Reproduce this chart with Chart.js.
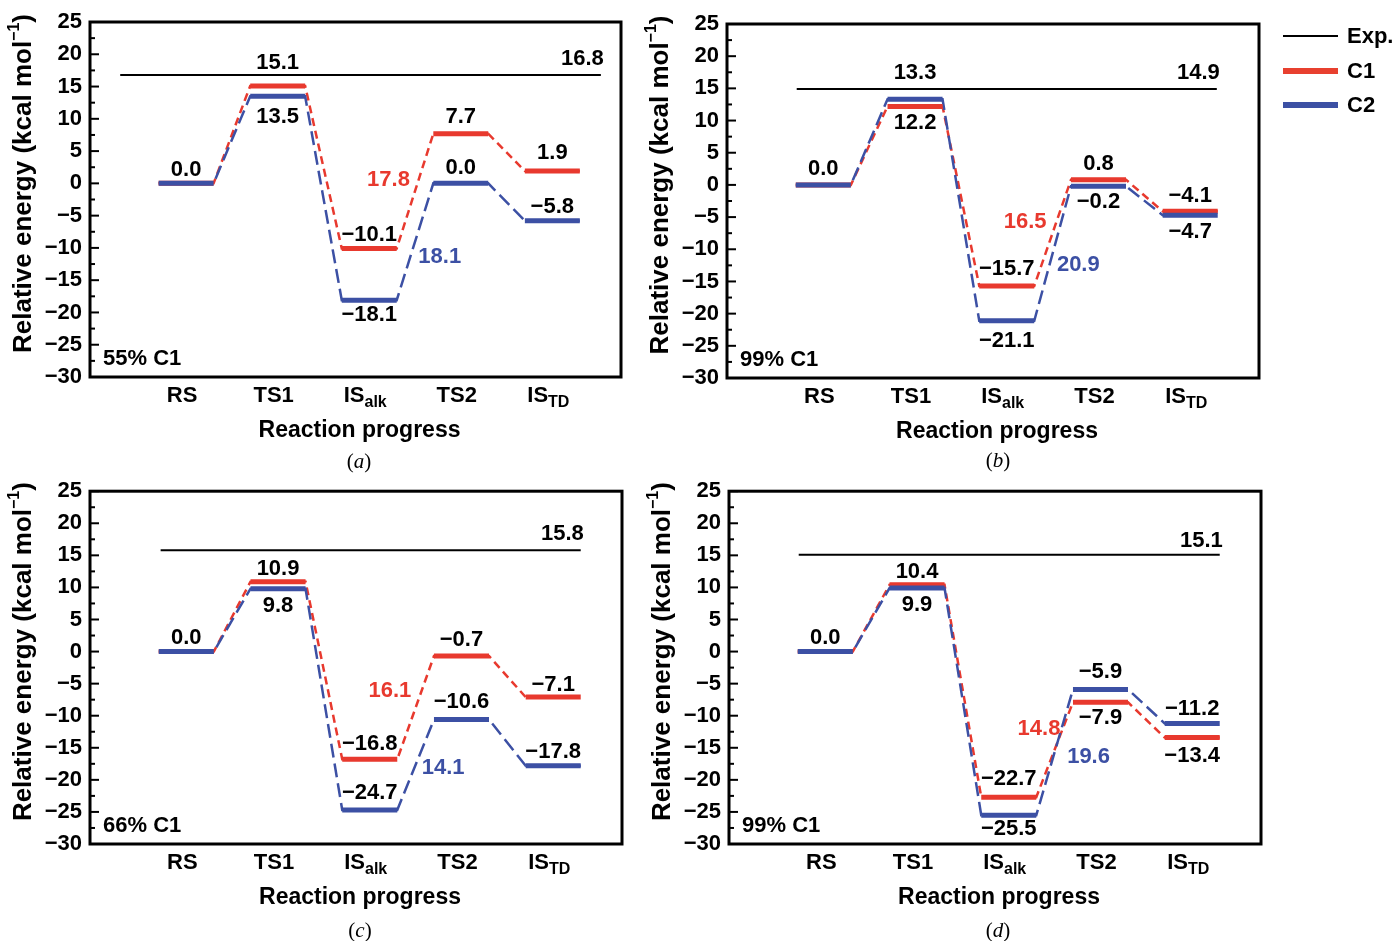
<!DOCTYPE html>
<html>
<head>
<meta charset="utf-8">
<script src="https://cdn.jsdelivr.net/npm/chart.js@4.4.1/dist/chart.umd.min.js"></script>
<style>
  body { margin: 0; background: #fff; width: 1395px; height: 941px; position: relative; overflow: hidden; font-family: "Liberation Sans", Arial, sans-serif; }
  .panel { position: absolute; }
  .cap { position: absolute; font: 21px "Liberation Serif", "Times New Roman", serif; transform: translate(-50%, -50%); }
  .leg { position: absolute; left: 1283px; height: 30px; display: flex; align-items: center; font: bold 22px "Liberation Sans", Arial, sans-serif; transform: translateY(-50%); white-space: nowrap; }
  .leg i { display: inline-block; width: 55px; margin-right: 9px; }
</style>
</head>
<body>
<div class="panel" style="left:0;top:0"><canvas id="chartA" width="640" height="470"></canvas></div>
<div class="panel" style="left:640px;top:0"><canvas id="chartB" width="755" height="470"></canvas></div>
<div class="panel" style="left:0;top:470px"><canvas id="chartC" width="640" height="471"></canvas></div>
<div class="panel" style="left:640px;top:470px"><canvas id="chartD" width="755" height="471"></canvas></div>

<div class="leg" style="top:36px"><i style="height:2px;background:#000"></i>Exp.</div>
<div class="leg" style="top:71px"><i style="height:6px;background:#e8402f"></i>C1</div>
<div class="leg" style="top:105px"><i style="height:6px;background:#3c50a4"></i>C2</div>

<div class="cap" style="left:359px;top:461px">(<i>a</i>)</div>
<div class="cap" style="left:998px;top:460px">(<i>b</i>)</div>
<div class="cap" style="left:360px;top:930px">(<i>c</i>)</div>
<div class="cap" style="left:998px;top:930px">(<i>d</i>)</div>

<script>
const STATES = ['RS', 'TS1', 'IS', 'TS2', 'IS'];
const STATE_SUBS = ['', '', 'alk', '', 'TD'];

// energies (kcal/mol), C1 / C2 per state, plus experimental barrier
const a_c1 = [0.0, 15.1, -10.1, 7.7, 1.9];
const a_c2 = [0.0, 13.5, -18.1, 0.0, -5.8];
const a_exp = 16.8;

const b_c1 = [0.0, 12.2, -15.7, 0.8, -4.1];
const b_c2 = [0.0, 13.3, -21.1, -0.2, -4.7];
const b_exp = 14.9;

const c_c1 = [0.0, 10.9, -16.8, -0.7, -7.1];
const c_c2 = [0.0, 9.8, -24.7, -10.6, -17.8];
const c_exp = 15.8;

const d_c1 = [0.0, 10.4, -22.7, -7.9, -13.4];
const d_c2 = [0.0, 9.9, -25.5, -5.9, -11.2];
const d_exp = 15.1;

const Y_MIN = -30, Y_MAX = 25, Y_STEP = 5;
const X_MIN = -1.05, X_MAX = 4.75;
const HALF = 0.3;
const RED = '#e8392e', BLUE = '#3c50a4';
const FONT = '"Liberation Sans", Arial, sans-serif';

const fmt = v => (Math.round(v * 10) / 10).toFixed(1).replace('-', '\u2212');

const PANELS = [
  { id: 'chartA', c1: a_c1, c2: a_c2, exp: a_exp, expSpan: [-0.72, 4.53], tag: '55% C1',
    axisW: 90, pad: { left: 0, top: 22, right: 19, bottom: 93 },
    dy1: [-13, -23, -13.5, -16.5, -18], dy2: [-13, 21, 15, -15, -14], expDy: -16,
    bar1: [2.21, 0.5], bar2: [2.77, -11.4] },
  { id: 'chartB', c1: b_c1, c2: b_c2, exp: b_exp, expSpan: [-0.29, 4.29], tag: '99% C1',
    axisW: 87, pad: { left: 0, top: 24, right: 136, bottom: 92 },
    dy1: [-16, 17, -17, -16, -15], dy2: [-16, -26, 20, 16, 16.5], expDy: -16,
    bar1: [2.2, -5.8], bar2: [2.78, -12.4] },
  { id: 'chartC', c1: c_c1, c2: c_c2, exp: c_exp, expSpan: [-0.28, 4.3], tag: '66% C1',
    axisW: 90, pad: { left: 0, top: 18, right: 18, bottom: 97 },
    dy1: [-14, -13, -15, -16, -12.5], dy2: [-14, 17, -17, -18, -13.5], expDy: -16,
    bar1: [2.22, -6.1], bar2: [2.8, -18.1] },
  { id: 'chartD', c1: d_c1, c2: d_c2, exp: d_exp, expSpan: [-0.29, 4.3], tag: '99% C1',
    axisW: 89, pad: { left: 0, top: 18, right: 134, bottom: 97 },
    dy1: [-14, -13, -18, 16, 18.5], dy2: [-14, 17, 13.5, -17, -14], expDy: -14,
    bar1: [2.33, -12.1], bar2: [2.87, -16.4] },
];

function levelPoints(vals) {
  const pts = [];
  vals.forEach((v, i) => { pts.push({ x: i - HALF, y: v }, { x: i + HALF, y: v }, { x: i + 0.5, y: null }); });
  return pts;
}
function pathPoints(vals) {
  return vals.flatMap((v, i) => [{ x: i - HALF, y: v }, { x: i + HALF, y: v }]);
}

function energyPlugin(p) {
  return {
    id: 'energy',
    afterDraw(chart) {
      const { ctx, chartArea: ca, scales: { x, y } } = chart;
      ctx.save();
      ctx.fillStyle = '#000';
      ctx.strokeStyle = '#000';

      // frame + inward ticks
      ctx.lineWidth = 3;
      ctx.strokeRect(ca.left, ca.top, ca.right - ca.left, ca.bottom - ca.top);
      ctx.lineWidth = 2;
      for (let v = Y_MIN; v <= Y_MAX; v += Y_STEP / 2) {
        const py = y.getPixelForValue(v);
        const len = v % Y_STEP === 0 ? 9 : 5;
        ctx.beginPath(); ctx.moveTo(ca.left, py); ctx.lineTo(ca.left + len, py); ctx.stroke();
      }

      // category labels with subscripts
      ctx.textBaseline = 'middle';
      ctx.textAlign = 'left';
      STATES.forEach((s, i) => {
        const px = x.getPixelForValue(i) - 4, py = ca.bottom + 19;
        ctx.font = 'bold 22px ' + FONT;
        const w1 = ctx.measureText(s).width;
        ctx.font = 'bold 16px ' + FONT;
        const w2 = STATE_SUBS[i] ? ctx.measureText(STATE_SUBS[i]).width : 0;
        const x0 = px - (w1 + w2) / 2;
        ctx.font = 'bold 22px ' + FONT;
        ctx.fillText(s, x0, py);
        if (w2) { ctx.font = 'bold 16px ' + FONT; ctx.fillText(STATE_SUBS[i], x0 + w1, py + 7); }
      });

      // axis titles
      ctx.textAlign = 'center';
      ctx.font = 'bold 23px ' + FONT;
      ctx.fillText('Reaction progress', (ca.left + ca.right) / 2 + 4, ca.bottom + 54);

      ctx.save();
      ctx.translate(ca.left - 66, (ca.top + ca.bottom) / 2 - 16);
      ctx.rotate(-Math.PI / 2);
      const main = 'Relative energy (kcal mol', sup = '\u22121', tail = ')';
      ctx.font = 'bold 26px ' + FONT;
      const wm = ctx.measureText(main).width, wt = ctx.measureText(tail).width;
      ctx.font = 'bold 16px ' + FONT;
      const ws = ctx.measureText(sup).width;
      let tx = -(wm + ws + wt) / 2;
      ctx.textAlign = 'left';
      ctx.font = 'bold 26px ' + FONT;
      ctx.fillText(main, tx, 0); tx += wm;
      ctx.font = 'bold 16px ' + FONT;
      ctx.fillText(sup, tx, -9); tx += ws;
      ctx.font = 'bold 26px ' + FONT;
      ctx.fillText(tail, tx, 0);
      ctx.restore();

      // value labels
      ctx.font = 'bold 22px ' + FONT;
      ctx.textAlign = 'center';
      const put = (txt, xv, yv, dy, col) => {
        ctx.fillStyle = col;
        ctx.fillText(txt, x.getPixelForValue(xv), y.getPixelForValue(yv) + dy);
      };
      p.c1.forEach((v, i) => {
        if (v !== p.c2[i]) put(fmt(v), i, v, p.dy1[i], '#000');
        put(fmt(p.c2[i]), i, p.c2[i], p.dy2[i], '#000');
      });

      // barriers IS_alk -> TS2
      put(fmt(p.c1[3] - p.c1[2]), p.bar1[0], p.bar1[1], 0, RED);
      put(fmt(p.c2[3] - p.c2[2]), p.bar2[0], p.bar2[1], 0, BLUE);

      // experimental value
      ctx.fillStyle = '#000';
      ctx.textAlign = 'right';
      ctx.fillText(fmt(p.exp), x.getPixelForValue(p.expSpan[1]) + 3, y.getPixelForValue(p.exp) + p.expDy);

      // composition tag
      ctx.textAlign = 'left';
      ctx.fillText(p.tag, ca.left + 13, ca.bottom - 18);
      ctx.restore();
    }
  };
}

for (const p of PANELS) {
  new Chart(document.getElementById(p.id), {
    type: 'line',
    data: {
      datasets: [
        { label: 'C2', data: levelPoints(p.c2), borderColor: BLUE, borderWidth: 5, borderCapStyle: 'butt', spanGaps: false },
        { label: 'C1', data: levelPoints(p.c1), borderColor: RED, borderWidth: 5, borderCapStyle: 'butt', spanGaps: false },
        { label: 'C2 path', data: pathPoints(p.c2), borderColor: BLUE, borderWidth: 2.5, borderDash: [14, 6] },
        { label: 'C1 path', data: pathPoints(p.c1), borderColor: RED, borderWidth: 2.5, borderDash: [8, 5] },
        { label: 'Exp.', data: [{ x: p.expSpan[0], y: p.exp }, { x: p.expSpan[1], y: p.exp }], borderColor: '#000', borderWidth: 2 },
      ],
    },
    options: {
      responsive: false, animation: false,
      elements: { point: { radius: 0 }, line: { tension: 0 } },
      layout: { padding: p.pad, autoPadding: false },
      plugins: { legend: { display: false }, tooltip: { enabled: false } },
      scales: {
        x: { type: 'linear', min: X_MIN, max: X_MAX, display: false },
        y: {
          min: Y_MIN, max: Y_MAX,
          grid: { display: false, drawTicks: false }, border: { display: false },
          ticks: { stepSize: Y_STEP, padding: 8, color: '#000', font: { family: FONT, size: 22, weight: 'bold' },
                   callback: v => String(v).replace('-', '\u2212') },
          afterFit: s => { s.width = p.axisW; },
        },
      },
    },
    plugins: [energyPlugin(p)],
  });
}
</script>
</body>
</html>
